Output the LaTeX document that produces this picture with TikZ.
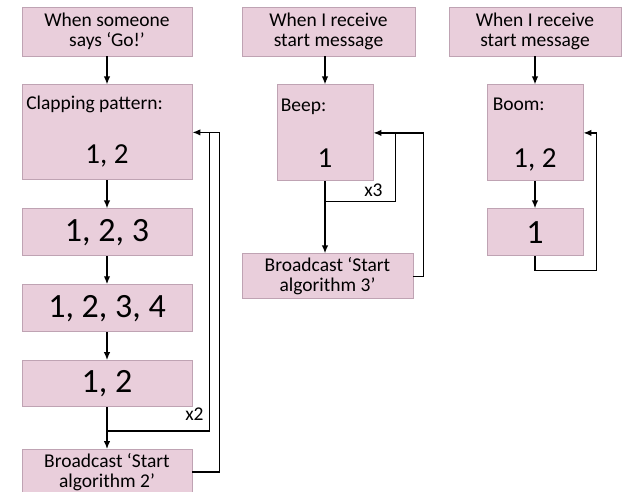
\documentclass[tikz,border=0pt]{standalone}
\usepackage{fontspec}
\setmainfont{Carlito}
\usepackage{xcolor}
\usepackage{tikz}
\usetikzlibrary{positioning,calc}
\usetikzlibrary{arrows.meta}
\definecolor{boxpink}{HTML}{E9CEDB}
\definecolor{boxedge}{HTML}{BFA3B3}

\begin{document}
\begin{tikzpicture}[x=1pt,y=-1pt,
    box/.style={rectangle,draw=boxedge,fill=boxpink,line width=0.9pt,inner sep=0pt,align=center,font=\fontsize{19.5}{20}\selectfont},
    lbl/.style={inner sep=0pt,font=\fontsize{19.5}{20}\selectfont},
    bignum/.style={font=\fontsize{34}{38}\selectfont},
    midnum/.style={inner sep=0pt,font=\fontsize{29}{32}\selectfont},
    arr/.style={draw,line width=1.4pt,-{Latex[length=8pt,width=6.5pt]}},
    loop/.style={draw,line width=1.4pt}]
    \useasboundingbox (0,0) rectangle (624,492);

    % clapping column
    \node[box,minimum width=170pt,minimum height=49pt] (go) at (107,31.5) {When someone\\says ‘Go!’};
    \node[box,minimum width=170pt,minimum height=95pt,below=28pt of go] (clap) {};
    \node[lbl,anchor=base west] (claplbl) at ([shift={(4.5pt,-25pt)}]clap.north west) {Clapping pattern:};
    \node[midnum,anchor=base] (clapnum) at ([yshift=-79pt]clap.north) {1, 2};
    \node[box,bignum,minimum width=170pt,minimum height=47pt,below=28pt of clap] (c123) {1, 2, 3};
    \node[box,bignum,minimum width=170pt,minimum height=47pt,below=28pt of c123] (c1234) {1, 2, 3, 4};
    \node[box,bignum,minimum width=170pt,minimum height=46pt,below=28pt of c1234] (c12) {1, 2};
    \node[box,minimum width=170pt,minimum height=45pt,below=42pt of c12] (bc2) {Broadcast ‘Start\\algorithm 2’};
    \draw[arr] (go) -- (clap);
    \draw[arr] (clap) -- (c123);
    \draw[arr] (c123) -- (c1234);
    \draw[arr] (c1234) -- (c12);
    \draw[arr] (c12) -- (bc2);
    \coordinate (j1) at ($(c12.south)!0.57!(bc2.north)$);
    \draw[loop] (j1) -| ($(clap.east)+(17pt,0)$);
    \draw[arr] (bc2.east) -- ++(27pt,0) |- (clap.east);
    \node[lbl] (rep2) at ([shift={(2pt,-7pt)}]c12.south east) {x2};

    % beep column
    \node[box,minimum width=173pt,minimum height=49pt] (recv3) at (328.5,31.5) {When I receive\\start message};
    \node[box,minimum width=96pt,minimum height=96pt,below=28pt of recv3,xshift=-3.5pt] (beep) {};
    \node[lbl,anchor=base west] (beeplbl) at ([shift={(4pt,-27pt)}]beep.north west) {Beep:};
    \node[midnum,anchor=base] (beepnum) at ([yshift=-83pt]beep.north) {1};
    \node[box,minimum width=171pt,minimum height=45pt,below=72pt of beep,xshift=2.5pt] (bc3) {Broadcast ‘Start\\algorithm 3’};
    \draw[arr] (recv3.south -| beep.north) -- (beep.north);
    \draw[arr] (beep.south) -- (beep.south |- bc3.north);
    \coordinate (j2) at ([yshift=-20pt]beep.south);
    \draw[loop] (j2) -| ($(beep.east)+(22pt,0)$);
    \draw[arr] (bc3.east) -- ++(10pt,0) |- (beep.east);
    \node[lbl] (rep3) at ([yshift=-9pt]beep.south east) {x3};

    % boom column
    \node[box,minimum width=172pt,minimum height=49pt] (recv4) at (535,31.5) {When I receive\\start message};
    \node[box,minimum width=96pt,minimum height=96pt,below=28pt of recv4] (boom) {};
    \node[lbl,anchor=base west] (boomlbl) at ([shift={(6pt,-26pt)}]boom.north west) {Boom:};
    \node[midnum,anchor=base] (boomnum) at ([yshift=-83pt]boom.north) {1, 2};
    \node[box,bignum,minimum width=96pt,minimum height=47pt,below=27pt of boom] (boom1) {1};
    \draw[arr] (recv4) -- (boom);
    \draw[arr] (boom) -- (boom1);
    \draw[arr] (boom1.south) -- ++(0,-14pt) -| ($(boom.east)+(13pt,0)$) -- (boom.east);
\end{tikzpicture}
\end{document}
